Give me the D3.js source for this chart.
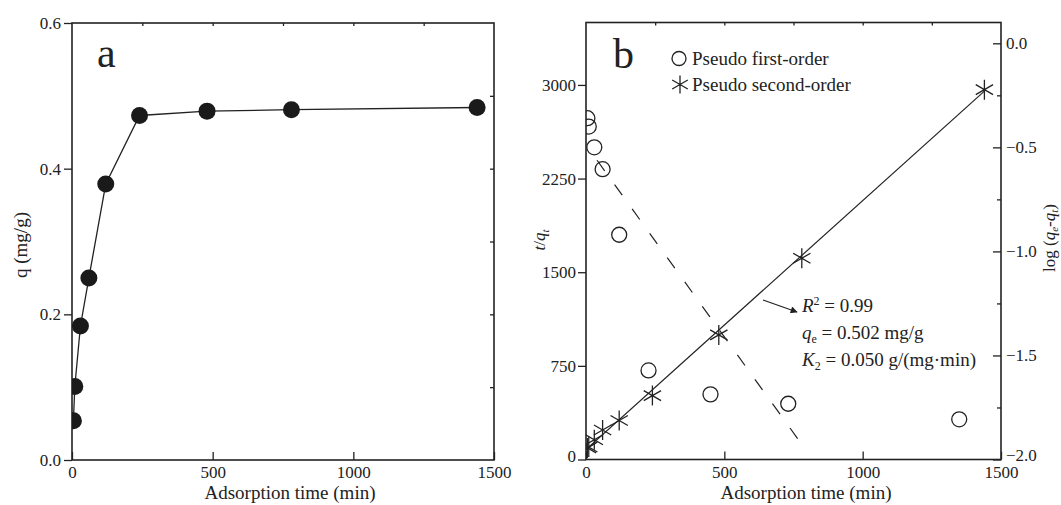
<!DOCTYPE html>
<html>
<head>
<meta charset="utf-8">
<script src="https://cdn.jsdelivr.net/npm/d3@7"></script>
<style>
  body { margin: 0; background: #fff; }
  svg text { font-family: "Liberation Serif", "Times New Roman", serif; fill: #222; }
</style>
</head>
<body>
<svg id="chart" width="1061" height="505" font-family="Liberation Serif, serif"></svg>
<script>
// panel a: uptake q (mg/g) against adsorption time
var timeA = [5, 10, 30, 60, 120, 240, 480, 780, 1440];
var qA = [0.054, 0.101, 0.184, 0.250, 0.379, 0.473, 0.479, 0.481, 0.484];

// panel b: pseudo second-order, t/qt (left axis)
var timeSecond = [5, 10, 30, 60, 120, 240, 480, 780, 1440];
var tqSecond = [93, 100, 158, 236, 312, 512, 998, 1612, 2962];

// panel b: pseudo first-order, log(qe-qt) (right axis)
var timeFirst = [5, 10, 30, 60, 120, 226, 450, 731, 1349];
var logFirst = [-0.36, -0.40, -0.50, -0.605, -0.92, -1.572, -1.687, -1.732, -1.807];

// fitted lines (end points)
var fitSecondX = [0, 1440], fitSecondY = [80, 2950];
var fitFirstX = [40, 795], fitFirstY = [-0.562, -1.955];

// tick values
var xTicks = [0, 500, 1000, 1500];
var xTopTicks = [250, 500, 750, 1000, 1250];
var qTicks = [0, 0.2, 0.4, 0.6];
var qMinor = [0.1, 0.2, 0.3, 0.4, 0.5];
var tqTicks = [0, 750, 1500, 2250, 3000];
var logTicks = [-2, -1.5, -1, -0.5, 0];
var logMinor = [-1.75, -1.25, -0.75, -0.25];

var ink = "#222";
var svg = d3.select("#chart");

function frameAxes(g, x, y, w, h) {
  g.append("rect")
    .attr("width", w).attr("height", h)
    .attr("fill", "none").attr("stroke", ink).attr("stroke-width", 1.6);
  g.append("g")
    .attr("transform", "translate(0," + h + ")")
    .call(d3.axisBottom(x).tickValues(xTicks).tickSize(-8).tickPadding(6).tickFormat(d3.format("d")));
  g.append("g")
    .call(d3.axisTop(x).tickValues(xTopTicks).tickSize(-3).tickFormat(""));
}

function styleAxes(g) {
  g.selectAll(".domain").remove();
  g.selectAll("g").attr("font-family", null);
  g.selectAll(".tick line").attr("stroke", ink).attr("stroke-width", 1.3);
  g.selectAll(".tick text").attr("font-size", 17).attr("fill", ink);
}

function starPath(r) {
  var p = "";
  [90, 30, 150].forEach(function(a) {
    var dx = r * Math.cos(a * Math.PI / 180), dy = r * Math.sin(a * Math.PI / 180);
    p += "M" + (-dx) + "," + (-dy) + "L" + dx + "," + dy;
  });
  return p;
}

// ---------- panel a ----------
var aLeft = 72, aTop = 23, aW = 422, aH = 437;
var xA = d3.scaleLinear().domain([0, 1500]).range([0, aW]);
var yA = d3.scaleLinear().domain([0, 0.6]).range([aH, 0]);

var ga = svg.append("g").attr("transform", "translate(" + aLeft + "," + aTop + ")");
ga.append("clipPath").attr("id", "clipA").append("rect").attr("width", aW).attr("height", aH);

frameAxes(ga, xA, yA, aW, aH);
ga.append("g").call(d3.axisLeft(yA).tickValues(qTicks).tickSize(8).tickPadding(3).tickFormat(d3.format(".1f")));
ga.append("g").attr("transform", "translate(" + aW + ",0)")
  .call(d3.axisRight(yA).tickValues(qMinor).tickSize(-4).tickFormat(""));
styleAxes(ga);

var plotA = ga.append("g").attr("clip-path", "url(#clipA)");
plotA.append("path")
  .datum(timeA.map(function(t, i) { return [t, qA[i]]; }))
  .attr("fill", "none").attr("stroke", ink).attr("stroke-width", 1.3)
  .attr("d", d3.line().x(function(d) { return xA(d[0]); }).y(function(d) { return yA(d[1]); }));
plotA.selectAll("circle")
  .data(timeA)
  .enter().append("circle")
    .attr("cx", function(d) { return xA(d); })
    .attr("cy", function(d, i) { return yA(qA[i]); })
    .attr("r", 8.5)
    .attr("fill", "#1a1a1a");

ga.append("text").attr("x", 25).attr("y", 44).attr("font-size", 42).text("a");

svg.append("text")
  .attr("x", 290).attr("y", 499).attr("text-anchor", "middle").attr("font-size", 19)
  .text("Adsorption time (min)");
svg.append("text")
  .attr("transform", "translate(27,245) rotate(-90)")
  .attr("text-anchor", "middle").attr("font-size", 19)
  .text("q (mg/g)");

// ---------- panel b ----------
var bLeft = 586, bTop = 22.5, bW = 415, bH = 437;
var xB = d3.scaleLinear().domain([0, 1500]).range([0, bW]);
var yB = d3.scaleLinear().domain([0, 3500]).range([bH, 0]);
var yR = d3.scaleLinear().domain([-2, 0.1]).range([bH, 0]);

var gb = svg.append("g").attr("transform", "translate(" + bLeft + "," + bTop + ")");
gb.append("clipPath").attr("id", "clipB").append("rect").attr("width", bW).attr("height", bH);

frameAxes(gb, xB, yB, bW, bH);
gb.append("g").attr("class", "yleft")
  .call(d3.axisLeft(yB).tickValues(tqTicks).tickSize(8).tickPadding(2).tickFormat(d3.format("d")));
gb.append("g").attr("class", "yright").attr("transform", "translate(" + bW + ",0)")
  .call(d3.axisRight(yR).tickValues(logTicks).tickSize(-8).tickPadding(5).tickFormat(d3.format(".1f")));
gb.append("g").attr("transform", "translate(" + bW + ",0)")
  .call(d3.axisRight(yR).tickValues(logMinor).tickSize(-4).tickFormat(""));
styleAxes(gb);
// lift the bottom-most labels a little, like the original
gb.select(".yleft").selectAll(".tick text").filter(function(d) { return d === 0; }).attr("dy", "0.1em");
gb.select(".yright").selectAll(".tick text").filter(function(d) { return d === -2; }).attr("dy", "0.05em");

var plotB = gb.append("g").attr("clip-path", "url(#clipB)");

// pseudo first-order fit (dashed)
plotB.append("line")
  .attr("x1", xB(fitFirstX[0])).attr("y1", yR(fitFirstY[0]))
  .attr("x2", xB(fitFirstX[1])).attr("y2", yR(fitFirstY[1]))
  .attr("stroke", ink).attr("stroke-width", 1.2).attr("stroke-dasharray", "13,17");

// pseudo second-order fit (solid)
plotB.append("line")
  .attr("x1", xB(fitSecondX[0])).attr("y1", yB(fitSecondY[0]))
  .attr("x2", xB(fitSecondX[1])).attr("y2", yB(fitSecondY[1]))
  .attr("stroke", ink).attr("stroke-width", 1.2);

plotB.selectAll("circle.first")
  .data(timeFirst)
  .enter().append("circle")
    .attr("class", "first")
    .attr("cx", function(d) { return xB(d); })
    .attr("cy", function(d, i) { return yR(logFirst[i]); })
    .attr("r", 7.5)
    .attr("fill", "none").attr("stroke", ink).attr("stroke-width", 1.3);

plotB.selectAll("path.second")
  .data(timeSecond)
  .enter().append("path")
    .attr("class", "second")
    .attr("transform", function(d, i) { return "translate(" + xB(d) + "," + yB(tqSecond[i]) + ")"; })
    .attr("d", starPath(10))
    .attr("stroke", ink).attr("stroke-width", 1.3);

gb.append("text").attr("x", 27).attr("y", 45).attr("font-size", 42).text("b");

// legend
gb.append("circle").attr("cx", 93).attr("cy", 36).attr("r", 7)
  .attr("fill", "none").attr("stroke", ink).attr("stroke-width", 1.3);
gb.append("text").attr("x", 106).attr("y", 42).attr("font-size", 19).text("Pseudo first-order");
gb.append("path").attr("transform", "translate(94,62)").attr("d", starPath(9))
  .attr("stroke", ink).attr("stroke-width", 1.3);
gb.append("text").attr("x", 106).attr("y", 68).attr("font-size", 19).text("Pseudo second-order");

// annotation with arrow
svg.append("defs").append("marker")
  .attr("id", "arrow").attr("viewBox", "0 0 10 10").attr("refX", 9).attr("refY", 5)
  .attr("markerWidth", 9).attr("markerHeight", 7).attr("markerUnits", "userSpaceOnUse")
  .attr("orient", "auto")
  .append("path").attr("d", "M0,0L10,5L0,10Z").attr("fill", ink);
svg.append("line")
  .attr("x1", 763).attr("y1", 300).attr("x2", 797).attr("y2", 312)
  .attr("stroke", ink).attr("stroke-width", 1.2).attr("marker-end", "url(#arrow)");

var ann = svg.append("g").attr("font-size", 19);
var t1 = ann.append("text").attr("x", 802).attr("y", 312);
t1.append("tspan").attr("font-style", "italic").text("R");
t1.append("tspan").attr("font-size", 12).attr("dy", -7).text("2");
t1.append("tspan").attr("dy", 7).text(" = 0.99");
var t2 = ann.append("text").attr("x", 802).attr("y", 339);
t2.append("tspan").attr("font-style", "italic").text("q");
t2.append("tspan").attr("font-size", 12).attr("dy", 4).text("e");
t2.append("tspan").attr("dy", -4).text(" = 0.502 mg/g");
var t3 = ann.append("text").attr("x", 802).attr("y", 366);
t3.append("tspan").attr("font-style", "italic").text("K");
t3.append("tspan").attr("font-size", 12).attr("dy", 4).text("2");
t3.append("tspan").attr("dy", -4).text(" = 0.050 g/(mg\u00b7min)");

// axis titles panel b
svg.append("text")
  .attr("x", 806).attr("y", 499).attr("text-anchor", "middle").attr("font-size", 19)
  .text("Adsorption time (min)");
var tl = svg.append("text")
  .attr("transform", "translate(545,240) rotate(-90)")
  .attr("text-anchor", "middle").attr("font-size", 17);
tl.append("tspan").attr("font-style", "italic").text("t");
tl.append("tspan").text("/");
tl.append("tspan").attr("font-style", "italic").text("q");
tl.append("tspan").attr("font-style", "italic").attr("font-size", 11).attr("dy", 4).text("t");

var rl = svg.append("text")
  .attr("transform", "translate(1055,238) rotate(-90)")
  .attr("text-anchor", "middle").attr("font-size", 17);
rl.append("tspan").text("log (");
rl.append("tspan").attr("font-style", "italic").text("q");
rl.append("tspan").attr("font-style", "italic").attr("font-size", 11).attr("dy", 3).text("e");
rl.append("tspan").attr("dy", -3).text("-");
rl.append("tspan").attr("font-style", "italic").text("q");
rl.append("tspan").attr("font-style", "italic").attr("font-size", 11).attr("dy", 3).text("t");
rl.append("tspan").attr("dy", -3).text(")");
</script>
</body>
</html>
